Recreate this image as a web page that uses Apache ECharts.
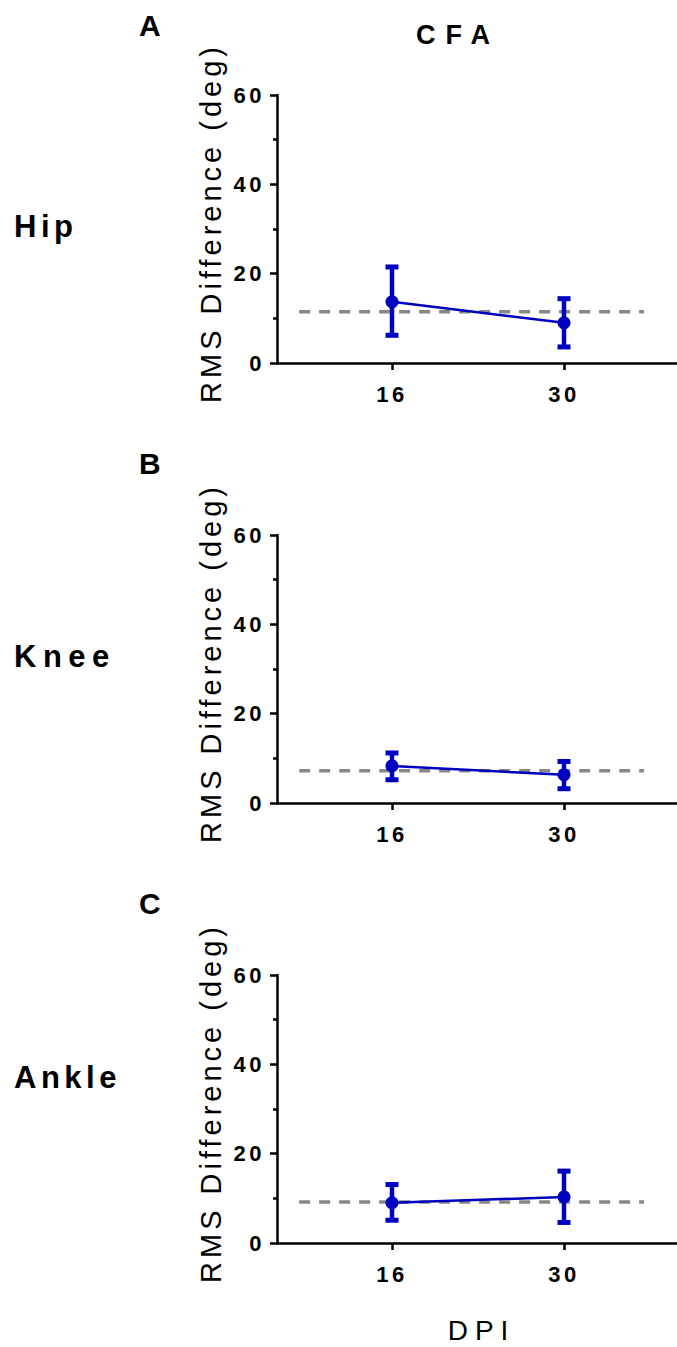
<!DOCTYPE html>
<html>
<head>
<meta charset="utf-8">
<title>CFA – RMS Difference by DPI</title>
<script src="https://cdn.jsdelivr.net/npm/echarts@6.0.0/dist/echarts.min.js"></script>
<style>
  html, body { margin: 0; padding: 0; background: #fff; }
  #chart { width: 677px; height: 1347px; }
</style>
</head>
<body>
<div id="chart"></div>
<script>
// ---- data ----
const dpiLabels = ['16', '30'];          // x categories (days post infection)
const dpiPos = [1, 2];                   // positions of the categories on the x scale
const jointNames = ['Hip', 'Knee', 'Ankle'];
const panelLetters = ['A', 'B', 'C'];
const groupTitle = 'CFA';
const yName = 'RMS Difference (deg)';
const xName = 'DPI';

// mean RMS difference and error-bar ends at 16 and 30 DPI
const hipMean = [13.7, 9.0];
const hipLow = [6.2, 3.6];
const hipHigh = [21.5, 14.4];
const hipRef = 11.5;

const kneeMean = [8.3, 6.3];
const kneeLow = [5.2, 3.2];
const kneeHigh = [11.2, 9.3];
const kneeRef = 7.2;

const ankleMean = [9.0, 10.3];
const ankleLow = [5.1, 4.6];
const ankleHigh = [13.1, 16.1];
const ankleRef = 9.2;

// ---- styling ----
const FONT = "'Liberation Sans', Arial, sans-serif";
const BLUE = '#0000C0';
const GREY = '#888888';
const X_MIN = 0.3314, X_MAX = 2.657;        // x extent of each panel
const REF_START = 0.46, REF_END = 2.465;    // extent of the dashed baseline
const GRID_TOPS = [95, 535, 975];
const GRID_H = 268;

const panels = [
  { mean: hipMean, low: hipLow, high: hipHigh, ref: hipRef },
  { mean: kneeMean, low: kneeLow, high: kneeHigh, ref: kneeRef },
  { mean: ankleMean, low: ankleLow, high: ankleHigh, ref: ankleRef }
];

const grids = [], xAxes = [], yAxes = [], series = [];

panels.forEach((p, i) => {
  grids.push({ left: 277, right: 0, top: GRID_TOPS[i], height: GRID_H, containLabel: false });

  xAxes.push({
    gridIndex: i,
    type: 'value',
    min: X_MIN,
    max: X_MAX,
    splitLine: { show: false },
    axisLine: { show: true, onZero: false, lineStyle: { color: '#000', width: 2.5 } },
    axisTick: { show: true, customValues: dpiPos, length: 7, lineStyle: { color: '#000', width: 2.5 } },
    axisLabel: {
      show: true,
      customValues: dpiPos,
      formatter: v => dpiLabels[dpiPos.indexOf(Math.round(v))] || '',
      margin: 20,
      color: '#000',
      fontSize: 22,
      fontWeight: 'bold',
      fontFamily: FONT
    },
    name: i === panels.length - 1 ? xName : '',
    nameLocation: 'middle',
    nameGap: 73,
    nameTextStyle: { color: '#000', fontSize: 28, fontFamily: FONT, padding: [0, 0, 0, 9] }
  });

  yAxes.push({
    gridIndex: i,
    type: 'value',
    min: 0,
    max: 60,
    interval: 20,
    splitLine: { show: false },
    axisLine: { show: true, lineStyle: { color: '#000', width: 2.5 } },
    axisTick: { show: true, length: 7, lineStyle: { color: '#000', width: 2.5 } },
    minorTick: { show: true, splitNumber: 2, length: 4, lineStyle: { color: '#000', width: 2.5 } },
    minorSplitLine: { show: false },
    axisLabel: {
      margin: 12,
      color: '#000',
      fontSize: 22,
      fontWeight: 'bold',
      fontFamily: FONT
    },
    name: yName,
    nameLocation: 'middle',
    nameGap: 52,
    nameTextStyle: { color: '#000', fontSize: 29, fontFamily: FONT, padding: [0, 0, 0, 12] }
  });

  // dashed reference level
  series.push({
    type: 'line',
    xAxisIndex: i, yAxisIndex: i,
    data: [[REF_START, p.ref], [REF_END, p.ref]],
    symbol: 'none',
    silent: true,
    z: 1,
    lineStyle: { color: GREY, width: 3.5, type: [11, 9] }
  });

  // error bars
  series.push({
    type: 'custom',
    xAxisIndex: i, yAxisIndex: i,
    z: 2,
    silent: true,
    data: dpiPos.map((x, k) => [x, p.low[k], p.high[k]]),
    renderItem: (params, api) => {
      const x = api.value(0);
      const top = api.coord([x, api.value(2)]);
      const bot = api.coord([x, api.value(1)]);
      const hw = 6.5;
      const st = { stroke: BLUE, lineWidth: 5 };
      return {
        type: 'group',
        children: [
          { type: 'line', shape: { x1: top[0], y1: top[1], x2: bot[0], y2: bot[1] }, style: { stroke: BLUE, lineWidth: 4.5 } },
          { type: 'line', shape: { x1: top[0] - hw, y1: top[1], x2: top[0] + hw, y2: top[1] }, style: st },
          { type: 'line', shape: { x1: bot[0] - hw, y1: bot[1], x2: bot[0] + hw, y2: bot[1] }, style: st }
        ]
      };
    }
  });

  // means
  series.push({
    type: 'line',
    xAxisIndex: i, yAxisIndex: i,
    data: dpiPos.map((x, k) => [x, p.mean[k]]),
    symbol: 'circle',
    symbolSize: 13,
    z: 3,
    itemStyle: { color: BLUE },
    lineStyle: { color: BLUE, width: 2.5 }
  });
});

// panel letters, row labels and group title
const graphics = [];
const LETTER_Y = [25, 463, 903];
const JOINT_Y = [226, 656, 1077];
panelLetters.forEach((t, i) => {
  graphics.push({ type: 'text', x: 139, y: LETTER_Y[i],
    style: { text: t, fill: '#000', font: 'bold 30px ' + FONT, textAlign: 'left', textVerticalAlign: 'middle' } });
});
jointNames.forEach((t, i) => {
  graphics.push({ type: 'text', x: 14, y: JOINT_Y[i],
    style: { text: t, fill: '#000', font: 'bold 31px ' + FONT, textAlign: 'left', textVerticalAlign: 'middle' } });
});
graphics.push({ type: 'text', x: 458, y: 35,
  style: { text: groupTitle, fill: '#000', font: 'bold 27px ' + FONT, textAlign: 'center', textVerticalAlign: 'middle' } });

const chart = echarts.init(document.getElementById('chart'), null, { renderer: 'svg' });
chart.setOption({
  animation: false,
  backgroundColor: '#fff',
  grid: grids,
  xAxis: xAxes,
  yAxis: yAxes,
  series: series,
  graphic: graphics
});

// wide tracking used by the figure's lettering
function spacingFor(str) {
  if (str === groupTitle) return 10;
  if (str === xName) return 7;
  if (str === yName) return 4;
  if (str === 'Knee') return 6.5;
  if (jointNames.includes(str)) return 4.5;
  if (/^\d+$/.test(str)) return 3.5;
  return 0;
}
function applyLetterSpacing() {
  document.querySelectorAll('#chart svg text').forEach(el => {
    const s = spacingFor(el.textContent);
    if (s) el.style.letterSpacing = s + 'px';
  });
}
applyLetterSpacing();
chart.on('rendered', applyLetterSpacing);
chart.on('finished', applyLetterSpacing);
setTimeout(applyLetterSpacing, 100);
</script>
</body>
</html>
